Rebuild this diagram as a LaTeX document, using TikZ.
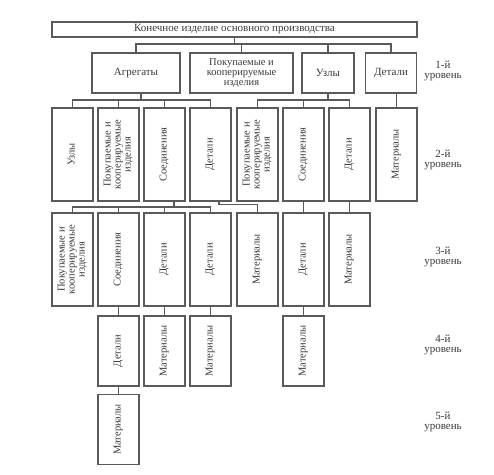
\documentclass[tikz,border=0pt]{standalone}
\usepackage{fontspec}
\setmainfont{Liberation Serif}
\usepackage{graphicx}
\usetikzlibrary{positioning}
\definecolor{linec}{HTML}{5A5A5A}
\definecolor{textc}{HTML}{3A3A3A}
\newcommand{\vtext}[1]{\rotatebox{90}{\begin{tabular}{@{}c@{}}#1\end{tabular}}}

\begin{document}
\begin{tikzpicture}[x=1pt, y=-1pt,
  box/.style={draw=linec, line width=1.1pt, align=center, inner sep=1pt, text=textc, font=\fontsize{11}{10.5}\selectfont},
  vbox/.style={box, minimum width=41pt, minimum height=93pt, font=\fontsize{10.5}{10}\selectfont},
  sbox/.style={vbox, minimum height=70pt},
  conn/.style={linec, line width=1.1pt},
  lvl/.style={align=center, text=textc, font=\fontsize{11}{10}\selectfont}]

\useasboundingbox (0,0) rectangle (494,474);

\node[box, minimum width=365pt, minimum height=15pt] (top) at (234.5,29.5) {Конечное изделие основного производства};

\node[box, minimum width=88pt, minimum height=40pt] (agr) at (136,73) {Агрегаты};
\node[box, minimum width=103pt, minimum height=40pt, font=\fontsize{10.5}{10}\selectfont] (pok1) at (241.5,73) {Покупаемые и\\кооперируемые\\изделия};
\node[box, minimum width=52pt, minimum height=40pt] (uzl1) at (328,73) {Узлы};
\node[box, minimum width=51pt, minimum height=40pt] (det1) at (391,73) {Детали};

\node[vbox] (uzl2)  at (72.5,154.5)  {\vtext{Узлы}};
\node[vbox] (pok2a) at (118.5,154.5) {\vtext{Покупаемые и\\кооперируемые\\изделия}};
\node[vbox] (soe2a) at (164.5,154.5) {\vtext{Соединения}};
\node[vbox] (det2a) at (210.5,154.5) {\vtext{Детали}};
\node[vbox] (pok2b) at (257.5,154.5) {\vtext{Покупаемые и\\кооперируемые\\изделия}};
\node[vbox] (soe2b) at (303.5,154.5) {\vtext{Соединения}};
\node[vbox] (det2b) at (349.5,154.5) {\vtext{Детали}};
\node[vbox] (mat2)  at (396.5,154.5) {\vtext{Материалы}};

\node[vbox] (pok3)  at (72.5,259.5)  {\vtext{Покупаемые и\\кооперируемые\\изделия}};
\node[vbox] (soe3)  at (118.5,259.5) {\vtext{Соединения}};
\node[vbox] (det3a) at (164.5,259.5) {\vtext{Детали}};
\node[vbox] (det3b) at (210.5,259.5) {\vtext{Детали}};
\node[vbox] (mat3a) at (257.5,259.5) {\vtext{Материалы}};
\node[vbox] (det3c) at (303.5,259.5) {\vtext{Детали}};
\node[vbox] (mat3b) at (349.5,259.5) {\vtext{Материалы}};

\node[sbox] (det4a) at (118.5,351) {\vtext{Детали}};
\node[sbox] (mat4a) at (164.5,351) {\vtext{Материалы}};
\node[sbox] (mat4b) at (210.5,351) {\vtext{Материалы}};
\node[sbox] (mat4c) at (303.5,351) {\vtext{Материалы}};

\node[sbox] (mat5) at (118.5,429.5) {\vtext{Материалы}};

\node[lvl] (lv1) at (443,71)  {1-й\\уровень};
\node[lvl] (lv2) at (443,160) {2-й\\уровень};
\node[lvl] (lv3) at (443,257) {3-й\\уровень};
\node[lvl] (lv4) at (443,345) {4-й\\уровень};
\node[lvl] (lv5) at (443,422) {5-й\\уровень};

\coordinate (b0) at (234.5,44);
\draw[conn] (top) -- (b0);
\draw[conn] (agr.north) |- (b0) -| (det1.north);
\draw[conn] (pok1.north |- b0) -- (pok1); \draw[conn] (uzl1.north |- b0) -- (uzl1);

\coordinate (b1) at (141,100);
\draw[conn] ([xshift=5pt]agr.south) -- (b1);
\draw[conn] (uzl2.north) |- (b1) -| (det2a.north);
\draw[conn] (pok2a.north |- b1) -- (pok2a); \draw[conn] (soe2a.north |- b1) -- (soe2a);

\coordinate (b2) at (328,100);
\draw[conn] (uzl1) -- (b2);
\draw[conn] (pok2b.north) |- (b2) -| (det2b.north);
\draw[conn] (soe2b.north |- b2) -- (soe2b);
\draw[conn] (det1.south -| mat2) -- (mat2);

\coordinate (b3) at (174,207);
\draw[conn] ([xshift=9.5pt]soe2a.south) -- (b3);
\draw[conn] (pok3.north) |- (b3) -| (det3b.north);
\draw[conn] (soe3.north |- b3) -- (soe3); \draw[conn] (det3a.north |- b3) -- (det3a);
\draw[conn] ([xshift=8.5pt]det2a.south) -- ++(0,3) -| (mat3a.north);

\foreach \a/\b in {soe2b/det3c, det2b/mat3b, soe3/det4a, det3a/mat4a, det3b/mat4b, det3c/mat4c, det4a/mat5}
  \draw[conn] (\a) -- (\b);
\end{tikzpicture}
\end{document}
